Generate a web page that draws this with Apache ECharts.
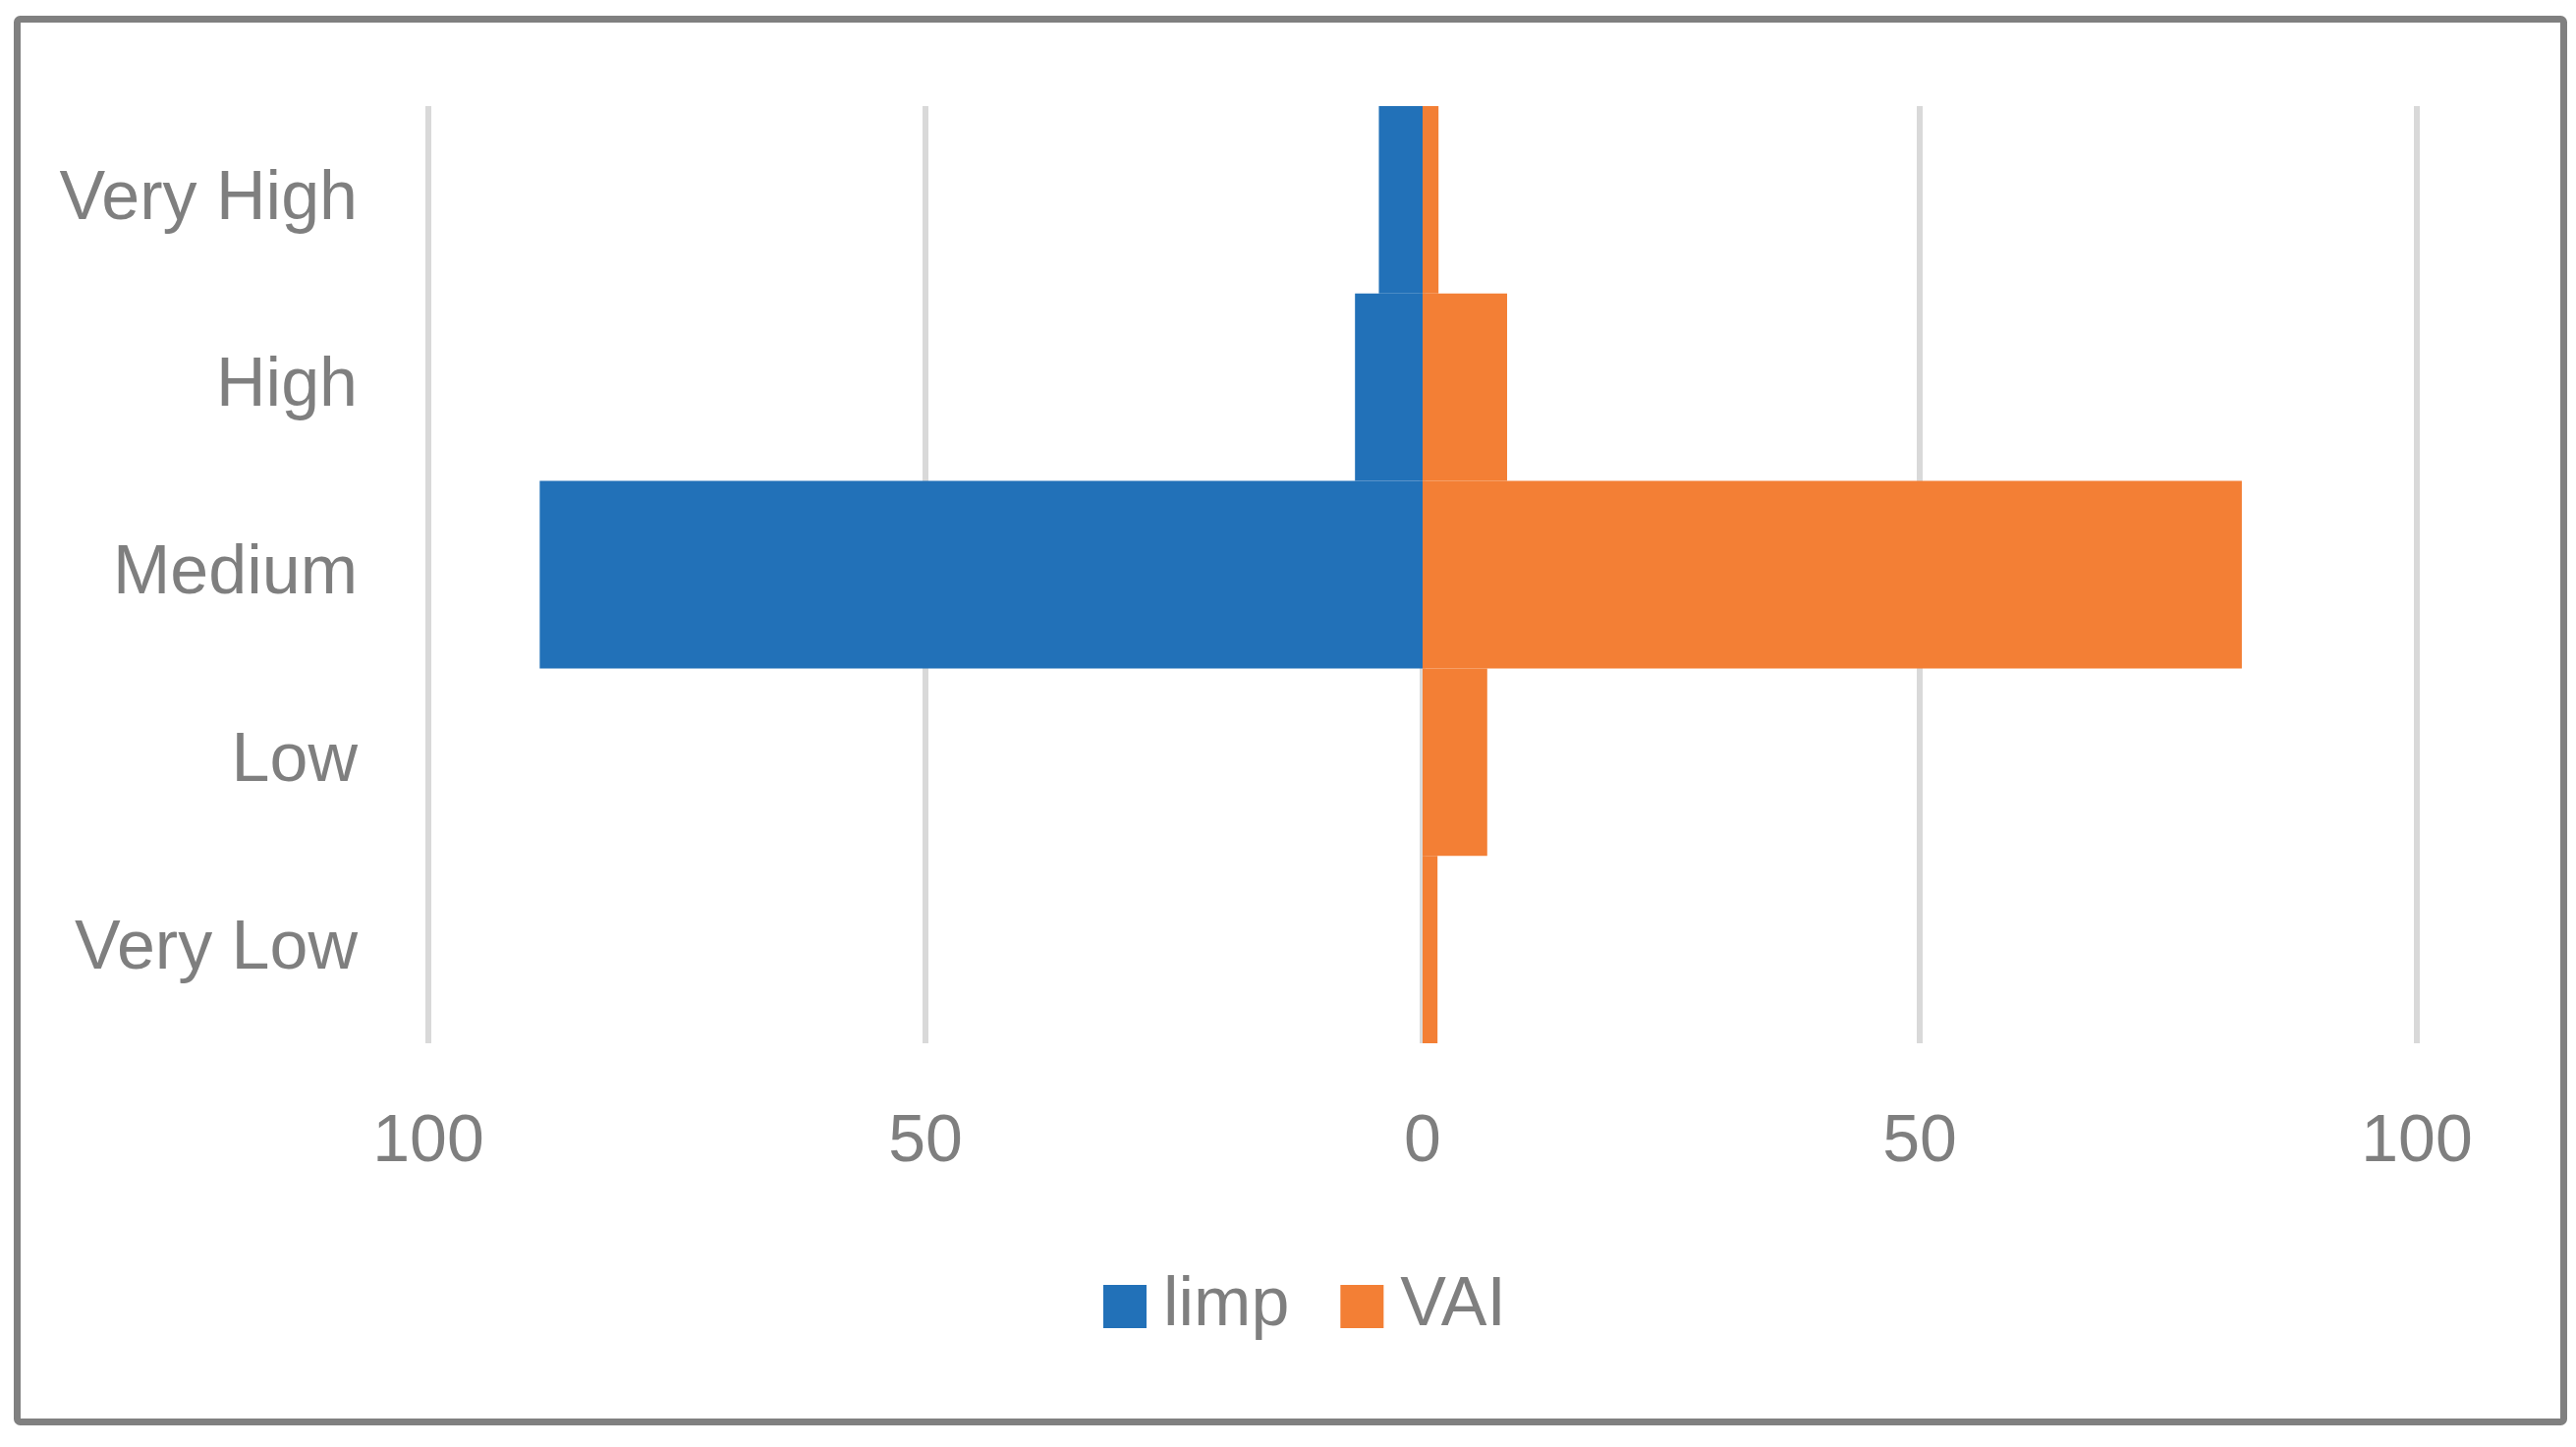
<!DOCTYPE html>
<html>
<head>
<meta charset="utf-8">
<script src="https://cdn.jsdelivr.net/npm/echarts@6/dist/echarts.min.js"></script>
<style>
  html, body { margin: 0; padding: 0; background: #ffffff; }
  #chart { width: 2622px; height: 1473px; }
</style>
</head>
<body>
<div id="chart"></div>
<script>
const categories = ['Very High', 'High', 'Medium', 'Low', 'Very Low'];
const limpValues = [4.4, 6.8, 88.8, 0, 0];
const vaiValues = [1.6, 8.5, 82.4, 6.5, 1.5];
const seriesNames = ['limp', 'VAI'];
const axisMin = -100;
const axisMax = 100;
const axisStep = 50;

const textColor = '#7f7f7f';
const fontFamily = '"Liberation Sans", Arial, sans-serif';

const chart = echarts.init(document.getElementById('chart'), null, { renderer: 'canvas' });

chart.setOption({
  backgroundColor: '#ffffff',
  animation: false,
  graphic: [{
    type: 'rect',
    shape: { x: 17.5, y: 19.5, width: 2592, height: 1428, r: 3 },
    style: { fill: 'none', stroke: '#808080', lineWidth: 7 },
    silent: true,
    z: 100
  }],
  grid: {
    left: 436,
    right: 162,
    top: 108,
    bottom: 411,
    containLabel: false
  },
  legend: {
    data: seriesNames,
    left: 1118,
    top: 1290,
    itemWidth: 44,
    itemHeight: 44,
    itemGap: 52,
    icon: 'rect',
    textStyle: {
      color: textColor,
      fontSize: 70,
      fontFamily: fontFamily,
      padding: [0, 0, 0, 12]
    }
  },
  xAxis: {
    type: 'value',
    min: axisMin,
    max: axisMax,
    interval: axisStep,
    axisLine: { show: false },
    axisTick: { show: false },
    splitLine: { show: true, lineStyle: { color: '#d9d9d9', width: 6 } },
    axisLabel: {
      color: textColor,
      fontSize: 68,
      fontFamily: fontFamily,
      margin: 67,
      formatter: v => String(Math.abs(v))
    }
  },
  yAxis: {
    type: 'category',
    data: categories,
    inverse: true,
    axisLine: { show: false },
    axisTick: { show: false },
    splitLine: { show: false },
    axisLabel: {
      color: textColor,
      fontSize: 70,
      fontFamily: fontFamily,
      margin: 72,
      padding: [6, 0, 0, 0]
    }
  },
  series: [
    {
      name: seriesNames[0],
      type: 'bar',
      data: limpValues.map(v => -v),
      barGap: '-100%',
      barCategoryGap: 0,
      itemStyle: { color: '#2271B8' }
    },
    {
      name: seriesNames[1],
      type: 'bar',
      data: vaiValues,
      barGap: '-100%',
      barCategoryGap: 0,
      itemStyle: { color: '#F37F35' }
    }
  ]
});
</script>
</body>
</html>
